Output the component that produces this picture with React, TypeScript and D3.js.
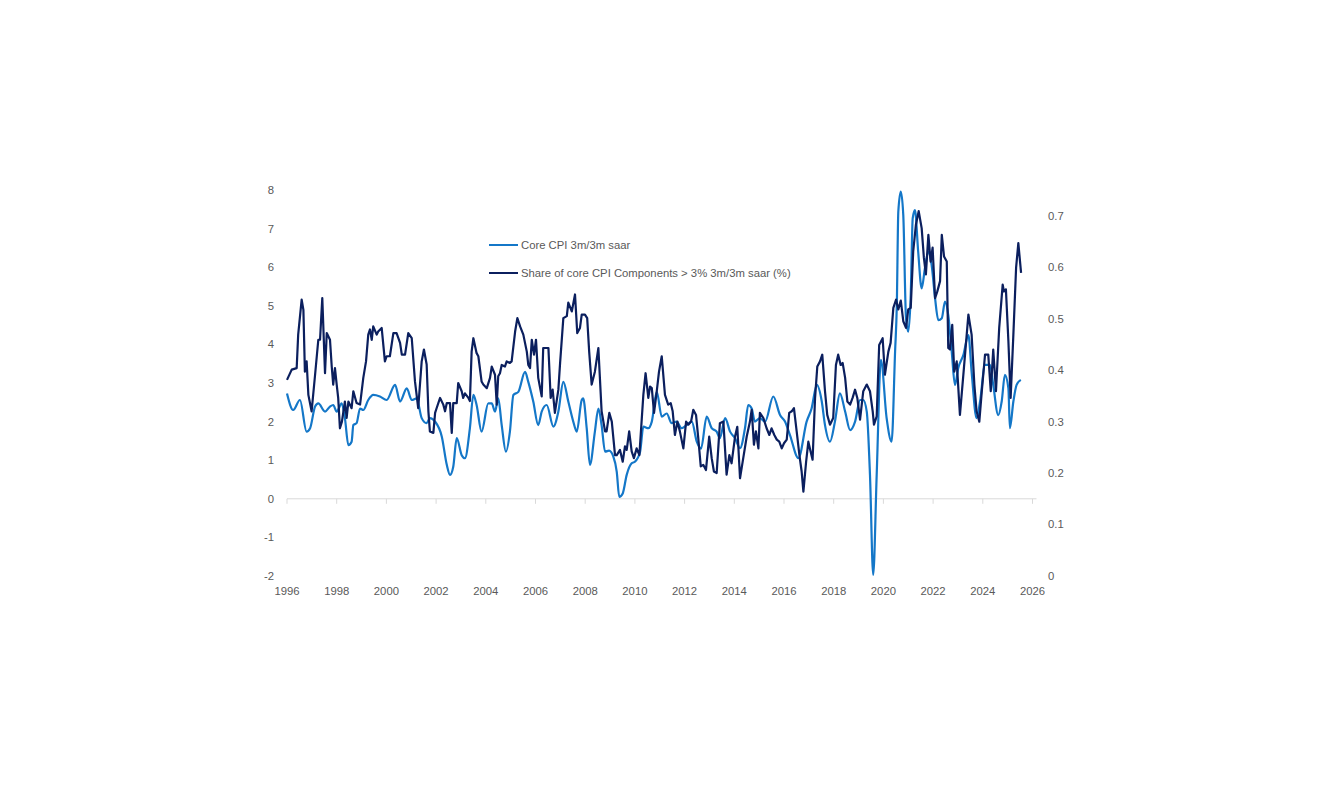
import * as d3 from 'd3';

// Core CPI 3m/3m saar (left axis), [decimal year, value]
const coreCpi: [number, number][] = [
  [1996.0, 2.73], [1996.25, 2.3], [1996.52, 2.56], [1996.79, 1.74], [1996.93, 1.83],
  [1997.13, 2.39], [1997.26, 2.47], [1997.53, 2.26], [1997.73, 2.39], [1997.86, 2.43],
  [1998.0, 2.26], [1998.2, 2.47], [1998.33, 2.09], [1998.47, 1.39], [1998.6, 1.48],
  [1998.67, 1.91], [1998.8, 1.96], [1998.94, 2.34], [1999.07, 2.3], [1999.27, 2.56],
  [1999.47, 2.69], [1999.74, 2.65], [2000.01, 2.56], [2000.35, 2.95], [2000.55, 2.52],
  [2000.82, 2.86], [2001.02, 2.56], [2001.22, 2.6], [2001.42, 2.09], [2001.62, 1.96],
  [2001.75, 2.09], [2001.96, 2.0], [2002.23, 1.61], [2002.43, 0.88], [2002.56, 0.62],
  [2002.69, 0.83], [2002.83, 1.57], [2003.03, 1.13], [2003.16, 1.05], [2003.36, 1.83],
  [2003.5, 2.69], [2003.63, 2.43], [2003.83, 1.74], [2004.1, 2.47], [2004.24, 2.47],
  [2004.37, 2.26], [2004.5, 2.6], [2004.64, 1.91], [2004.81, 1.22], [2004.97, 1.74],
  [2005.11, 2.69], [2005.31, 2.77], [2005.58, 3.29], [2005.71, 3.03], [2005.91, 2.52],
  [2006.11, 1.91], [2006.25, 2.26], [2006.45, 2.43], [2006.72, 1.87], [2006.92, 2.26],
  [2007.12, 3.03], [2007.32, 2.52], [2007.52, 2.0], [2007.66, 1.74], [2007.86, 2.56],
  [2007.92, 2.6], [2008.06, 1.83], [2008.19, 0.88], [2008.39, 1.74], [2008.53, 2.34],
  [2008.66, 1.91], [2008.8, 1.22], [2008.96, 1.25], [2009.13, 1.1], [2009.27, 0.7],
  [2009.37, 0.05], [2009.51, 0.14], [2009.67, 0.62], [2009.87, 0.92], [2010.0, 0.96],
  [2010.21, 1.22], [2010.34, 1.87], [2010.54, 1.83], [2010.68, 2.0], [2010.88, 2.77],
  [2011.08, 2.13], [2011.28, 2.21], [2011.48, 1.96], [2011.68, 2.0], [2011.88, 1.83],
  [2012.08, 1.91], [2012.29, 2.0], [2012.49, 1.48], [2012.66, 1.3], [2012.89, 2.13],
  [2013.09, 1.83], [2013.29, 1.74], [2013.42, 1.57], [2013.63, 2.09], [2013.83, 1.74],
  [2014.03, 1.57], [2014.23, 1.31], [2014.43, 1.83], [2014.56, 2.43], [2014.7, 2.34],
  [2014.83, 2.0], [2015.03, 2.09], [2015.24, 2.0], [2015.57, 2.65], [2015.84, 2.17],
  [2016.04, 2.0], [2016.24, 1.65], [2016.58, 1.05], [2016.91, 2.0], [2017.11, 2.34],
  [2017.32, 2.95], [2017.52, 2.52], [2017.65, 1.91], [2017.85, 1.48], [2018.05, 2.0],
  [2018.25, 2.73], [2018.46, 2.26], [2018.66, 1.78], [2018.86, 2.0], [2019.06, 2.56],
  [2019.19, 2.56], [2019.33, 2.26], [2019.46, 0.62], [2019.59, -1.97], [2019.73, 0.62],
  [2019.9, 3.6], [2020.13, 2.09], [2020.33, 1.48], [2020.47, 3.81], [2020.54, 5.02],
  [2020.6, 7.44], [2020.7, 7.96], [2020.8, 7.35], [2020.91, 4.68], [2021.0, 4.33],
  [2021.1, 5.28], [2021.18, 7.27], [2021.27, 7.48], [2021.4, 6.4], [2021.54, 5.45],
  [2021.67, 5.97], [2021.81, 6.4], [2021.94, 6.06], [2022.08, 5.19], [2022.21, 4.63],
  [2022.35, 4.68], [2022.48, 5.11], [2022.61, 4.76], [2022.75, 3.81], [2022.88, 2.95],
  [2023.01, 3.38], [2023.22, 3.73], [2023.42, 4.24], [2023.55, 3.29], [2023.75, 2.09],
  [2023.89, 2.52], [2024.09, 3.47], [2024.29, 3.47], [2024.42, 2.95], [2024.62, 2.17],
  [2024.76, 2.52], [2024.89, 3.21], [2025.03, 2.86], [2025.09, 1.83], [2025.23, 2.52],
  [2025.36, 2.95], [2025.53, 3.08],
];

// Share of core CPI components > 3% 3m/3m saar (right axis), [decimal year, share]
const shareAbove3: [number, number][] = [
  [1996.0, 0.381], [1996.19, 0.401], [1996.39, 0.404], [1996.45, 0.469], [1996.59, 0.537],
  [1996.66, 0.517], [1996.72, 0.397], [1996.79, 0.417], [1996.86, 0.352], [1996.99, 0.32],
  [1997.13, 0.391], [1997.26, 0.459], [1997.33, 0.459], [1997.42, 0.54], [1997.53, 0.394],
  [1997.6, 0.472], [1997.73, 0.459], [1997.8, 0.407], [1997.86, 0.372], [1997.93, 0.404],
  [1998.0, 0.372], [1998.06, 0.346], [1998.13, 0.287], [1998.21, 0.3], [1998.33, 0.339],
  [1998.4, 0.307], [1998.47, 0.339], [1998.6, 0.326], [1998.67, 0.359], [1998.8, 0.336],
  [1998.94, 0.333], [1999.07, 0.385], [1999.18, 0.417], [1999.27, 0.469], [1999.34, 0.479],
  [1999.41, 0.459], [1999.47, 0.485], [1999.61, 0.469], [1999.67, 0.475], [1999.81, 0.482],
  [1999.94, 0.417], [2000.01, 0.427], [2000.14, 0.427], [2000.28, 0.472], [2000.41, 0.472],
  [2000.55, 0.453], [2000.62, 0.43], [2000.75, 0.43], [2000.88, 0.472], [2001.02, 0.462],
  [2001.15, 0.378], [2001.28, 0.326], [2001.42, 0.417], [2001.51, 0.44], [2001.62, 0.411],
  [2001.69, 0.32], [2001.75, 0.281], [2001.89, 0.278], [2001.96, 0.317], [2002.02, 0.326],
  [2002.16, 0.346], [2002.29, 0.333], [2002.36, 0.32], [2002.43, 0.336], [2002.56, 0.336],
  [2002.63, 0.278], [2002.69, 0.336], [2002.83, 0.336], [2002.89, 0.375], [2003.03, 0.359],
  [2003.09, 0.346], [2003.16, 0.355], [2003.3, 0.346], [2003.36, 0.34], [2003.43, 0.436],
  [2003.5, 0.462], [2003.63, 0.433], [2003.7, 0.427], [2003.83, 0.378], [2003.9, 0.372],
  [2004.04, 0.365], [2004.17, 0.385], [2004.24, 0.407], [2004.37, 0.391], [2004.44, 0.333],
  [2004.5, 0.388], [2004.57, 0.394], [2004.64, 0.41], [2004.77, 0.407], [2004.84, 0.417],
  [2004.97, 0.414], [2005.04, 0.417], [2005.18, 0.475], [2005.27, 0.501], [2005.38, 0.485],
  [2005.51, 0.469], [2005.65, 0.436], [2005.71, 0.41], [2005.78, 0.404], [2005.85, 0.459],
  [2005.94, 0.43], [2006.02, 0.459], [2006.11, 0.385], [2006.25, 0.349], [2006.31, 0.443],
  [2006.52, 0.443], [2006.61, 0.346], [2006.69, 0.362], [2006.78, 0.317], [2006.92, 0.362],
  [2006.99, 0.414], [2007.12, 0.501], [2007.26, 0.505], [2007.32, 0.531], [2007.46, 0.514],
  [2007.59, 0.547], [2007.68, 0.472], [2007.79, 0.482], [2007.86, 0.508], [2007.99, 0.508],
  [2008.08, 0.501], [2008.16, 0.436], [2008.26, 0.372], [2008.39, 0.397], [2008.53, 0.443],
  [2008.66, 0.32], [2008.8, 0.281], [2008.86, 0.281], [2008.97, 0.317], [2009.07, 0.3],
  [2009.2, 0.235], [2009.27, 0.235], [2009.4, 0.245], [2009.51, 0.222], [2009.6, 0.252],
  [2009.67, 0.245], [2009.77, 0.281], [2009.87, 0.242], [2009.96, 0.229], [2010.07, 0.248],
  [2010.18, 0.235], [2010.34, 0.352], [2010.43, 0.394], [2010.54, 0.346], [2010.61, 0.368],
  [2010.68, 0.365], [2010.77, 0.317], [2010.88, 0.359], [2010.97, 0.397], [2011.08, 0.427],
  [2011.21, 0.352], [2011.34, 0.333], [2011.44, 0.336], [2011.52, 0.32], [2011.61, 0.274],
  [2011.71, 0.3], [2011.81, 0.281], [2011.95, 0.248], [2012.06, 0.3], [2012.15, 0.294],
  [2012.26, 0.3], [2012.35, 0.323], [2012.46, 0.313], [2012.55, 0.268], [2012.65, 0.213],
  [2012.75, 0.216], [2012.86, 0.206], [2012.99, 0.271], [2013.09, 0.229], [2013.18, 0.203],
  [2013.29, 0.2], [2013.42, 0.297], [2013.56, 0.3], [2013.69, 0.197], [2013.8, 0.235],
  [2013.89, 0.219], [2014.03, 0.271], [2014.12, 0.29], [2014.23, 0.19], [2014.36, 0.229],
  [2014.5, 0.271], [2014.63, 0.3], [2014.7, 0.323], [2014.79, 0.255], [2014.87, 0.281],
  [2014.97, 0.248], [2015.03, 0.317], [2015.17, 0.307], [2015.3, 0.287], [2015.41, 0.274],
  [2015.5, 0.287], [2015.61, 0.274], [2015.71, 0.265], [2015.81, 0.261], [2015.91, 0.248],
  [2016.0, 0.258], [2016.11, 0.265], [2016.21, 0.317], [2016.31, 0.32], [2016.4, 0.326],
  [2016.51, 0.281], [2016.62, 0.235], [2016.71, 0.203], [2016.78, 0.164], [2016.89, 0.222],
  [2016.98, 0.261], [2017.07, 0.242], [2017.15, 0.226], [2017.25, 0.346], [2017.34, 0.407],
  [2017.45, 0.417], [2017.54, 0.43], [2017.65, 0.359], [2017.74, 0.313], [2017.85, 0.294],
  [2017.98, 0.307], [2018.09, 0.41], [2018.18, 0.43], [2018.28, 0.41], [2018.36, 0.414],
  [2018.46, 0.385], [2018.55, 0.339], [2018.66, 0.333], [2018.76, 0.346], [2018.86, 0.362],
  [2018.95, 0.346], [2019.06, 0.304], [2019.19, 0.359], [2019.33, 0.372], [2019.46, 0.359],
  [2019.57, 0.32], [2019.62, 0.294], [2019.73, 0.31], [2019.83, 0.449], [2019.97, 0.462],
  [2020.06, 0.391], [2020.2, 0.436], [2020.29, 0.453], [2020.4, 0.521], [2020.51, 0.537],
  [2020.6, 0.518], [2020.7, 0.535], [2020.8, 0.495], [2020.91, 0.482], [2021.0, 0.518],
  [2021.1, 0.521], [2021.2, 0.631], [2021.31, 0.683], [2021.42, 0.709], [2021.54, 0.676],
  [2021.63, 0.618], [2021.71, 0.586], [2021.81, 0.663], [2021.9, 0.611], [2021.98, 0.638],
  [2022.08, 0.54], [2022.17, 0.553], [2022.28, 0.573], [2022.35, 0.663], [2022.44, 0.621],
  [2022.55, 0.611], [2022.61, 0.443], [2022.68, 0.44], [2022.77, 0.488], [2022.85, 0.397],
  [2022.95, 0.417], [2023.08, 0.313], [2023.24, 0.404], [2023.42, 0.508], [2023.55, 0.469],
  [2023.66, 0.372], [2023.75, 0.32], [2023.86, 0.3], [2023.96, 0.359], [2024.09, 0.43],
  [2024.22, 0.43], [2024.32, 0.359], [2024.42, 0.44], [2024.53, 0.359], [2024.66, 0.482],
  [2024.8, 0.566], [2024.85, 0.553], [2024.93, 0.557], [2025.03, 0.456], [2025.12, 0.346],
  [2025.23, 0.469], [2025.34, 0.599], [2025.43, 0.647], [2025.54, 0.589],
];

const yearTicks = d3.range(1996, 2027, 2);
const leftTicks = d3.range(-2, 9, 1);
const rightTicks = d3.range(0, 0.71, 0.1);

const legendItems = [
  { label: 'Core CPI 3m/3m saar', color: '#1477c8' },
  { label: 'Share of core CPI Components > 3% 3m/3m saar (%)', color: '#0b1f5e' },
];

const W = 1339;
const H = 798;
const plotLeft = 287;
const plotRight = 1032.5;
const plotTop = 190;
const plotBottom = 576;
const font = '"Liberation Sans", Arial, sans-serif';
const textColor = '#595959';

export default function App() {
  const x = d3.scaleLinear().domain([1996, 2026]).range([plotLeft, plotRight]);
  const yL = d3.scaleLinear().domain([-2, 8]).range([plotBottom, plotTop]);
  const yR = d3.scaleLinear().domain([0, 0.75]).range([plotBottom, plotTop]);

  const lineL = d3
    .line<[number, number]>()
    .curve(d3.curveMonotoneX)
    .x((d) => x(d[0]))
    .y((d) => yL(d[1]));
  const lineR = d3
    .line<[number, number]>()
    .x((d) => x(d[0]))
    .y((d) => yR(d[1]));

  const zeroY = yL(0);

  return (
    <svg
      width={W}
      height={H}
      style={{ position: 'absolute', left: 0, top: 0, background: '#fff' }}
      fontFamily={font}
      fontSize={11.3}
    >
      <rect x={0} y={0} width={W} height={H} fill="#fff" />

      {/* x axis at zero */}
      <line x1={plotLeft} x2={plotRight + 4} y1={zeroY} y2={zeroY} stroke="#d9d9d9" strokeWidth={1} />
      {yearTicks.map((t) => (
        <line key={'xt' + t} x1={x(t)} x2={x(t)} y1={zeroY} y2={zeroY + 5} stroke="#d9d9d9" strokeWidth={1} />
      ))}
      {yearTicks.map((t) => (
        <text key={'xl' + t} x={x(t)} y={591} dy="0.35em" textAnchor="middle" fill={textColor}>
          {t}
        </text>
      ))}

      {/* left axis labels */}
      {leftTicks.map((t) => (
        <text key={'yl' + t} x={274} y={yL(t)} dy="0.35em" textAnchor="end" fill={textColor}>
          {t}
        </text>
      ))}

      {/* right axis labels */}
      {rightTicks.map((t) => (
        <text key={'yr' + t} x={1048} y={yR(t)} dy="0.35em" textAnchor="start" fill={textColor}>
          {String(+t.toFixed(1))}
        </text>
      ))}

      {/* series */}
      <path d={lineL(coreCpi) || ''} fill="none" stroke={legendItems[0].color} strokeWidth={2.2} strokeLinejoin="round" />
      <path d={lineR(shareAbove3) || ''} fill="none" stroke={legendItems[1].color} strokeWidth={2.2} strokeLinejoin="round" />

      {/* legend */}
      {legendItems.map((item, i) => (
        <g key={item.label} transform={`translate(489, ${245 + i * 28})`}>
          <line x1={0} x2={29} y1={0} y2={0} stroke={item.color} strokeWidth={2} />
          <text x={32} y={0} dy="0.35em" fill={textColor}>
            {item.label}
          </text>
        </g>
      ))}
    </svg>
  );
}
